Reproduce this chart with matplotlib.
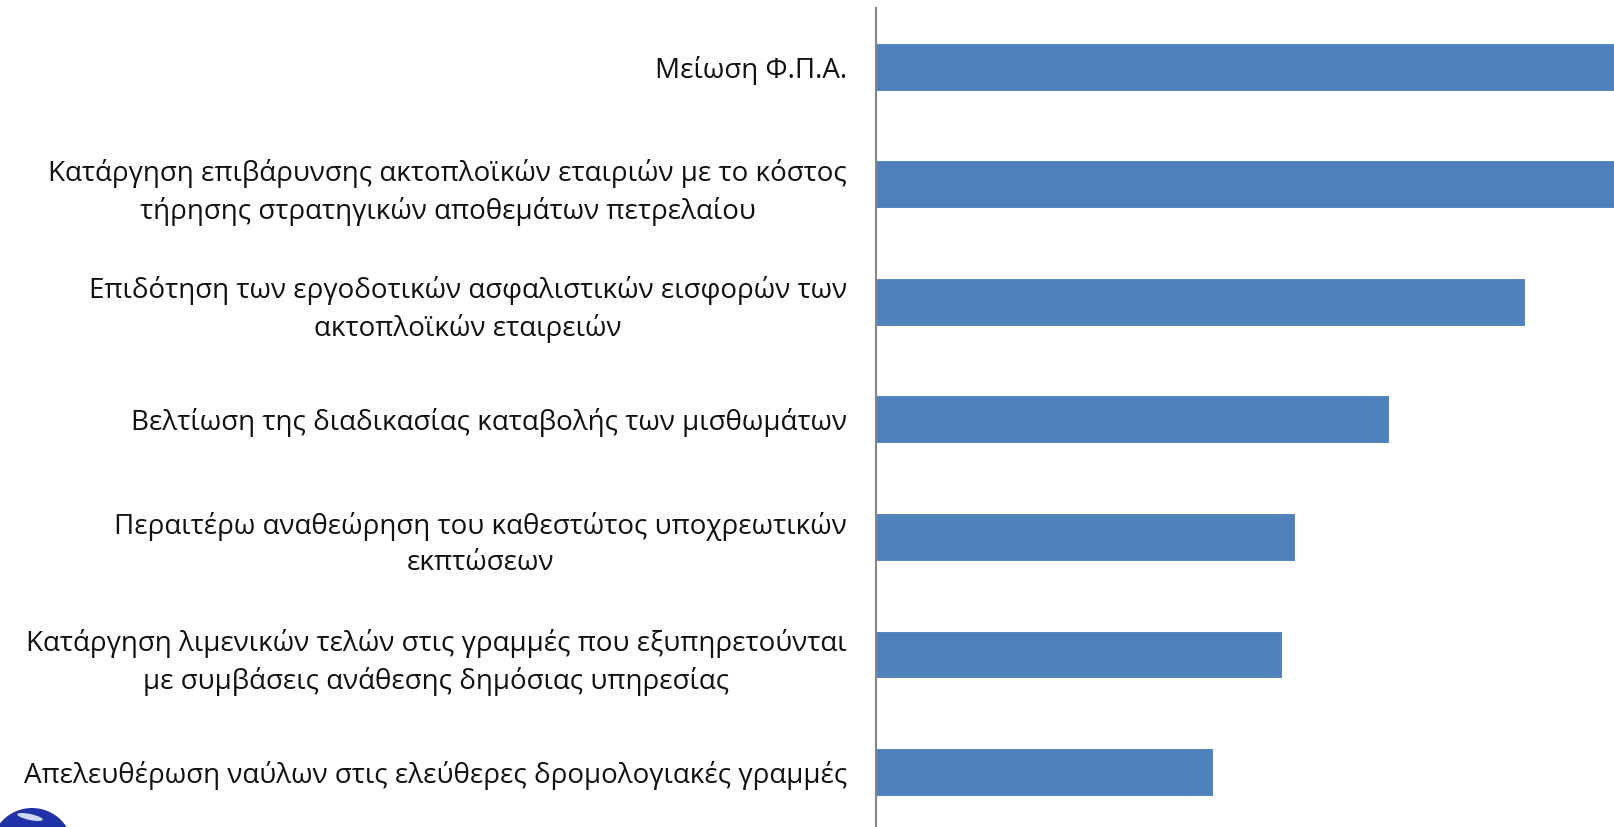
import matplotlib
matplotlib.use('Agg')
import matplotlib.pyplot as plt
from matplotlib.patches import Circle, Ellipse

# measures, top to bottom
labels = [
    'Μείωση Φ.Π.Α.',
    'Κατάργηση επιβάρυνσης ακτοπλοϊκών εταιριών με το κόστος\nτήρησης στρατηγικών αποθεμάτων πετρελαίου',
    'Επιδότηση των εργοδοτικών ασφαλιστικών εισφορών των\nακτοπλοϊκών εταιρειών',
    'Βελτίωση της διαδικασίας καταβολής των μισθωμάτων',
    'Περαιτέρω αναθεώρηση του καθεστώτος υποχρεωτικών\nεκπτώσεων',
    'Κατάργηση λιμενικών τελών στις γραμμές που εξυπηρετούνται\nμε συμβάσεις ανάθεσης δημόσιας υπηρεσίας',
    'Απελευθέρωση ναύλων στις ελεύθερες δρομολογιακές γραμμές',
]
values = [60, 58, 48.2, 38.1, 31.1, 30.1, 25.0]

plt.rcParams['font.family'] = ['Open Sans', 'DejaVu Sans']

fig = plt.figure(figsize=(16.14, 8.27), dpi=100)
ax = fig.add_axes([876 / 1614, 1 - 830.75 / 827, 738 / 1614, 822.75 / 827])

pos = list(range(len(labels)))
ax.barh(pos, values, height=0.39, color='#4F81BD', edgecolor='#4A7DBA', linewidth=0.6)

ax.set_ylim(len(labels) - 0.5, -0.5)
ax.set_xlim(0, 54.9)
ax.set_yticks(pos)
ax.set_yticklabels(labels, fontsize=20, color='#111111')
for t in ax.get_yticklabels():
    t.set_multialignment('center')
    t.set_linespacing(1.4)
ax.tick_params(axis='y', length=0, pad=21)
ax.set_xticks([])

for side in ['top', 'right', 'bottom']:
    ax.spines[side].set_visible(False)
ax.spines['left'].set_color('#868686')
ax.spines['left'].set_linewidth(1.5)

# logo peeking in at the lower left corner
fig.patches.append(Circle((32, -22), 41, transform=None, facecolor='#1f32a8',
                          edgecolor='none', zorder=5))
fig.patches.append(Ellipse((30, 10), 26, 6, angle=-12, transform=None,
                           facecolor='#cdd8f2', edgecolor='none', zorder=6))

fig.savefig('out.png', dpi=100)
